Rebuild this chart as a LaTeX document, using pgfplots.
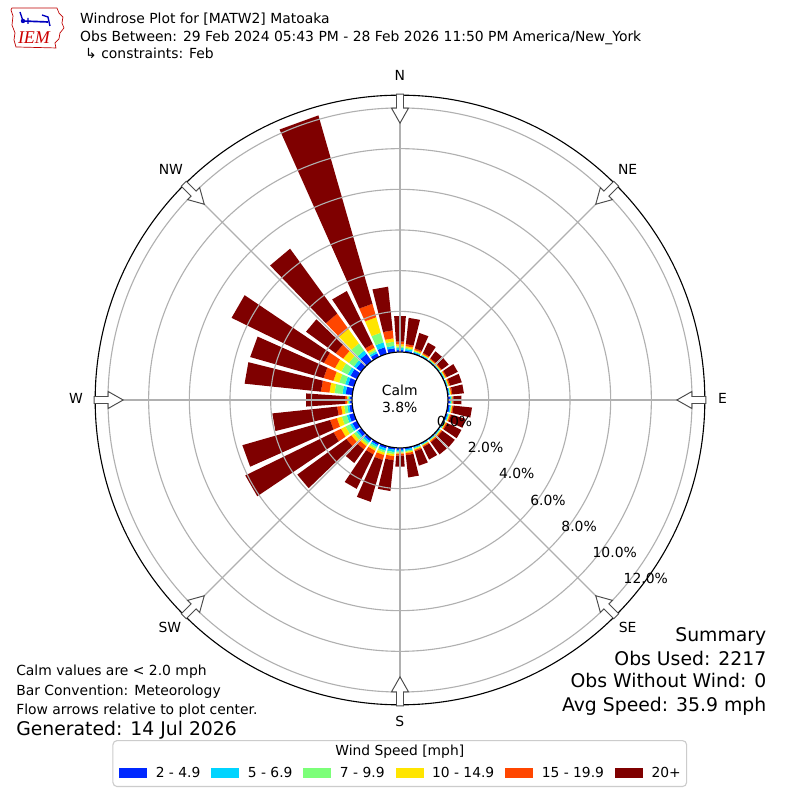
\documentclass[border=0pt]{standalone}
\usepackage{pgfplots}
\pgfplotsset{compat=1.18}
\usepackage{pgfplotstable}
\usepackage{fontspec}
\setmainfont{DejaVu Sans}
\newfontfamily\logofont{Liberation Serif}
\definecolor{wc1}{RGB}{0,40,255}
\definecolor{wc2}{RGB}{0,212,255}
\definecolor{wc3}{RGB}{124,255,121}
\definecolor{wc4}{RGB}{255,229,0}
\definecolor{wc5}{RGB}{255,70,0}
\definecolor{wc6}{RGB}{127,0,0}
\definecolor{gridgray}{HTML}{B0B0B0}

% percent of observations per direction and speed bin
\pgfplotstableread{
dir b1 b2 b3 b4 b5 b6
0 0.10 0.10 0.08 0.10 0.13 1.26
10 0.08 0.08 0.06 0.08 0.10 1.30
20 0.06 0.05 0.04 0.05 0.08 0.79
30 0.05 0.04 0.03 0.04 0.06 0.56
40 0.04 0.03 0.03 0.03 0.05 0.42
50 0.04 0.03 0.03 0.03 0.05 0.42
60 0.05 0.03 0.03 0.04 0.06 0.59
70 0.05 0.03 0.03 0.04 0.06 0.59
80 0.06 0.04 0.03 0.04 0.06 0.57
90 0.10 0.06 0.03 0.03 0.05 0.40
100 0.10 0.06 0.03 0.04 0.06 0.91
110 0.08 0.05 0.03 0.04 0.06 0.74
120 0.06 0.04 0.03 0.04 0.06 0.77
130 0.05 0.04 0.03 0.04 0.06 0.75
140 0.05 0.04 0.03 0.04 0.06 0.73
150 0.05 0.04 0.03 0.04 0.06 0.68
160 0.06 0.05 0.04 0.05 0.07 0.73
170 0.08 0.08 0.05 0.06 0.10 1.10
180 0.10 0.08 0.05 0.05 0.10 0.54
190 0.10 0.12 0.10 0.10 0.20 1.52
200 0.12 0.12 0.10 0.12 0.25 2.14
210 0.12 0.10 0.10 0.10 0.20 1.88
220 0.15 0.10 0.10 0.10 0.20 0.82
230 0.20 0.10 0.15 0.15 0.30 2.98
240 0.25 0.12 0.25 0.25 0.40 4.83
250 0.25 0.12 0.25 0.25 0.35 4.48
260 0.15 0.10 0.15 0.15 0.20 3.20
270 0.10 0.05 0.05 0.05 0.10 1.91
280 0.33 0.16 0.39 0.25 0.42 3.77
290 0.30 0.15 0.30 0.30 0.50 3.75
300 0.35 0.15 0.35 0.35 0.60 5.05
310 0.30 0.15 0.30 0.35 0.45 1.80
320 0.44 0.20 0.44 0.88 0.93 3.94
330 0.20 0.10 0.10 0.10 0.20 2.90
340 0.34 0.25 0.49 0.79 0.69 9.63
350 0.20 0.12 0.20 0.17 0.39 2.16
}\windtab

\begin{document}
\begin{tikzpicture}
\useasboundingbox (0,0) rectangle (8in,8in);
\fill[white] (0,0) rectangle (8in,8in);

% legend frame and title (pixel coordinates, origin top-left)
\begin{scope}[yshift=8in, x=0.01in, y=-0.01in]
\draw[rounded corners=3pt, draw=black!20, fill=white, line width=0.8pt] (113,741) rectangle (687,787);
\node[inner sep=0pt, font=\fontsize{10}{12}\selectfont] at (400,752) {Wind Speed [mph]};
\end{scope}

\begin{axis}[
  anchor=origin, at={(4in,4in)},
  x=0.2035in, y=0.2035in,
  xmin=-19.656, xmax=19.656, ymin=-19.656, ymax=19.656,
  hide axis, clip=false,
  legend columns=6,
  legend image code/.code={\fill[#1, draw=none] (0in,-0.05in) rectangle (0.28in,0.05in);},
  legend style={draw=none, fill=none, at={(0.5,0.0338)}, anchor=center,
    font=\fontsize{10}{12}\selectfont, nodes={inner sep=0pt},
    /tikz/every odd column/.append style={column sep=0.085in},
    /tikz/every even column/.append style={column sep=0.11in}},
]
\foreach \i in {0,...,35}{%
  \pgfplotstablegetelem{\i}{dir}\of\windtab
  \pgfmathsetmacro{\aA}{94-\pgfplotsretval}%
  \pgfmathsetmacro{\aB}{\aA-8}%
  \xdef\cum{2.359}%
  \foreach \k in {1,...,6}{%
    \pgfplotstablegetelem{\i}{b\k}\of\windtab
    \pgfmathsetmacro{\rnew}{\cum+\pgfplotsretval}%
    \edef\temp{\noexpand\addplot[draw=none, fill=wc\k, data cs=polar, forget plot] coordinates {(\aA,\cum) (\aB,\cum) (\aB,\rnew) (\aA,\rnew)} -- cycle;}%
    \temp
    \xdef\cum{\rnew}%
  }%
}
\addlegendimage{fill=wc1, draw=none}\addlegendentry{2 - 4.9}
\addlegendimage{fill=wc2, draw=none}\addlegendentry{5 - 6.9}
\addlegendimage{fill=wc3, draw=none}\addlegendentry{7 - 9.9}
\addlegendimage{fill=wc4, draw=none}\addlegendentry{10 - 14.9}
\addlegendimage{fill=wc5, draw=none}\addlegendentry{15 - 19.9}
\addlegendimage{fill=wc6, draw=none}\addlegendentry{20+}
\end{axis}

% polar grid, frame, arrows, calm circle (centered, pixel units)
\begin{scope}[shift={(4in,4in)}, x=0.01in, y=0.01in]
\foreach \r in {88.7,129.4,170.1,210.8,251.5,292.2}
  \draw[gridgray, line width=0.8pt] (0,0) circle[radius=\r];
\foreach \a in {0,45,...,315}
  \draw[gridgray, line width=0.8pt] (\a:48) -- (\a:305);
\draw[black, line width=0.8pt] (0,0) circle[radius=305];
\foreach \a in {0,45,...,315}
  \draw[fill=white, draw=black!70, line width=0.7pt, rotate=-\a]
    (-3.5,306) -- (3.5,306) -- (3.5,292) -- (8.5,292) -- (0,277) -- (-8.5,292) -- (-3.5,292) -- cycle;
\draw[fill=white, draw=black, line width=0.8pt] (0,0) circle[radius=48];
\end{scope}

% texts (pixel coordinates, origin top-left)
\begin{scope}[yshift=8in, x=0.01in, y=-0.01in,
  every node/.style={inner sep=0pt, font=\fontsize{10.05}{12}\selectfont}]
\node at (400,391) {Calm};
\node at (400,408) {3.8\%};
\node at (400,75) {N};
\node at (628,170) {NE};
\node at (723,399) {E};
\node at (628,628) {SE};
\node at (400,722) {S};
\node at (170,628) {SW};
\node at (76,399) {W};
\node at (171,170) {NW};
\node[anchor=base west] at (436.8,426.9) {0.0\%};
\node[anchor=base west] at (467.9,453.0) {2.0\%};
\node[anchor=base west] at (499.1,479.2) {4.0\%};
\node[anchor=base west] at (530.3,505.3) {6.0\%};
\node[anchor=base west] at (561.5,531.5) {8.0\%};
\node[anchor=base west] at (592.7,557.7) {10.0\%};
\node[anchor=base west] at (623.8,583.8) {12.0\%};
\node[anchor=base west] at (80,24) {Windrose Plot for [MATW2] Matoaka};
\node[anchor=base west] at (80,42) {Obs Between: 29 Feb 2024 05:43 PM - 28 Feb 2026 11:50 PM America/New\_York};
\node[anchor=base west] at (85,59) {↳ constraints: Feb};
\node[anchor=base west] at (16,676) {Calm values are < 2.0 mph};
\node[anchor=base west] at (16,696) {Bar Convention: Meteorology};
\node[anchor=base west] at (16,715) {Flow arrows relative to plot center.};
\node[anchor=base west, font=\fontsize{13.6}{16}\selectfont] at (16,736) {Generated: 14 Jul 2026};
\node[anchor=base east, font=\fontsize{13.6}{16}\selectfont] at (767,642) {Summary};
\node[anchor=base east, font=\fontsize{13.6}{16}\selectfont] at (767,666) {Obs Used: 2217};
\node[anchor=base east, font=\fontsize{13.6}{16}\selectfont] at (767,688) {Obs Without Wind: 0};
\node[anchor=base east, font=\fontsize{13.6}{16}\selectfont] at (767,712) {Avg Speed: 35.9 mph};
% IEM logo
\draw[red!75!black, line width=0.5pt] (12,8) -- (57,8) -- (59,13) -- (63,17) -- (62,23) -- (64,28) -- (60,33) -- (59,39) -- (55,43) -- (56,48) -- (16,47) -- (14,40) -- (15,33) -- (12,25) -- (13,16) -- (11,10) -- cycle;
\draw[blue!75!black, line width=1.2pt] (22,21) -- (48,22);
\draw[blue!75!black, line width=1pt] (20,12) -- (23,21) (42,15) -- (48,17) -- (50,26) (28,18) -- (28,24);
\fill[blue!75!black] (23,21) circle[radius=2.2];
\node[text=red!80!black, font=\logofont\itshape\fontsize{13}{15}\selectfont] at (34,38) {IEM};
\end{scope}
\end{tikzpicture}
\end{document}
